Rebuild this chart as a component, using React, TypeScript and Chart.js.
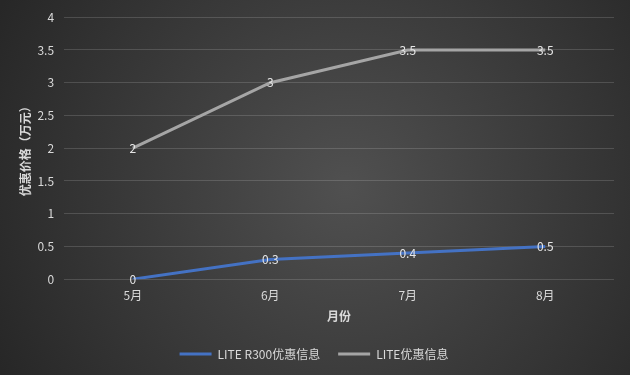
import React, { useEffect, useRef } from "react";
import { Chart, registerables } from "chart.js";

Chart.register(...registerables);

const categories = ["5月", "6月", "7月", "8月"];
const seriesR300 = [0, 0.3, 0.4, 0.5];
const seriesLite = [2, 3, 3.5, 3.5];
const seriesNames = ["LITE R300优惠信息", "LITE优惠信息"];
const yTitle = "优惠价格（万元）";
const xTitle = "月份";

const FONT = "'Noto Sans CJK SC', 'Noto Sans', sans-serif";
const TEXT = "#d9d9d9";

const bgPlugin = {
  id: "bg",
  beforeDraw(chart: any) {
    const { ctx, width, height } = chart;
    ctx.save();
    const g = ctx.createRadialGradient(width * 0.55, height * 0.5, 0, width * 0.55, height * 0.5, Math.max(width, height) * 0.62);
    g.addColorStop(0, "#505050");
    g.addColorStop(1, "#272727");
    ctx.fillStyle = g;
    ctx.fillRect(0, 0, width, height);
    ctx.restore();
  },
};

const labelPlugin = {
  id: "pointLabels",
  afterDatasetsDraw(chart: any) {
    const { ctx } = chart;
    ctx.save();
    ctx.font = `12px ${FONT}`;
    ctx.fillStyle = "#e6e6e6";
    ctx.textAlign = "center";
    ctx.textBaseline = "middle";
    chart.data.datasets.forEach((ds: any, i: number) => {
      const meta = chart.getDatasetMeta(i);
      meta.data.forEach((pt: any, j: number) => {
        ctx.fillText(String(ds.data[j]), pt.x, pt.y);
      });
    });
    ctx.restore();
  },
};

export default function App() {
  const ref = useRef<HTMLCanvasElement>(null);
  useEffect(() => {
    if (!ref.current) return;
    const chart = new Chart(ref.current, {
      type: "line",
      data: {
        labels: categories,
        datasets: [
          {
            label: seriesNames[0],
            data: seriesR300,
            borderColor: "#4472C4",
            backgroundColor: "#4472C4",
            borderWidth: 3,
            pointRadius: 0,
            tension: 0,
          },
          {
            label: seriesNames[1],
            data: seriesLite,
            borderColor: "#A5A5A5",
            backgroundColor: "#A5A5A5",
            borderWidth: 3,
            pointRadius: 0,
            tension: 0,
          },
        ],
      },
      options: {
        responsive: false,
        animation: false,
        layout: { padding: { top: -1, right: 16, left: 14, bottom: 5 } },
        plugins: {
          legend: {
            position: "bottom",
            labels: {
              color: TEXT,
              font: { family: FONT, size: 12 },
              usePointStyle: true,
              pointStyle: "line",
              pointStyleWidth: 32,
              boxWidth: 32,
              boxHeight: 3,
              padding: 18,
            },
          },
          tooltip: { enabled: false },
        },
        scales: {
          x: {
            offset: true,
            grid: { display: false, drawTicks: false },
            border: { display: false },
            ticks: { color: TEXT, font: { family: FONT, size: 12 }, padding: 9 },
            title: {
              display: true,
              text: xTitle,
              color: TEXT,
              font: { family: FONT, size: 12, weight: "bold" },
              padding: { top: -2, bottom: 6 },
            },
          },
          y: {
            min: 0,
            max: 4,
            ticks: {
              stepSize: 0.5,
              color: TEXT,
              font: { family: FONT, size: 12 },
              padding: 10,
              callback: (v: any) => String(Number(v)),
            },
            grid: { color: "rgba(255,255,255,0.15)", drawTicks: false },
            border: { display: false },
            title: {
              display: true,
              text: yTitle,
              color: TEXT,
              font: { family: FONT, size: 12, weight: "bold" },
              padding: { top: 4, bottom: -5 },
            },
          },
        },
      },
      plugins: [bgPlugin, labelPlugin],
    });
    return () => chart.destroy();
  }, []);
  return (
    <div style={{ position: "fixed", left: 0, top: 0, width: 630, height: 375 }}>
      <canvas ref={ref} width={630} height={375} style={{ width: 630, height: 375, display: "block" }} />
    </div>
  );
}
